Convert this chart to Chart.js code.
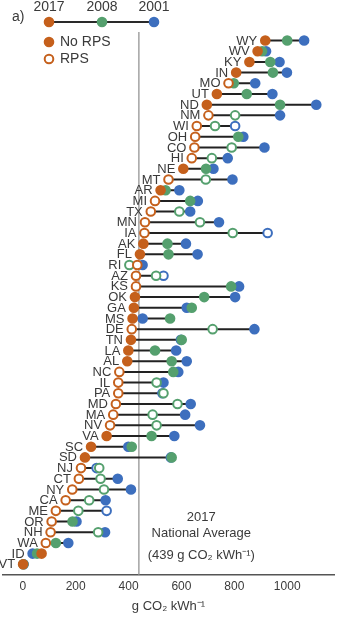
<!DOCTYPE html>
<html>
<head>
<meta charset="utf-8">
<script src="https://cdn.jsdelivr.net/npm/chart.js@4/dist/chart.umd.min.js"></script>
<style>
html, body { margin: 0; padding: 0; background: #fff; }
#wrap { position: relative; width: 344px; height: 619px; }
</style>
</head>
<body>
<div id="wrap"><canvas id="co2Chart"></canvas></div>
<script>
// states, top to bottom
const STATES = ['WY','WV','KY','IN','MO','UT','ND','NM','WI','OH','CO','HI','NE','MT','AR','MI','TX','MN','IA','AK',
'FL','RI','AZ','KS','OK','GA','MS','DE','TN','LA','AL','NC','IL','PA','MD','MA','NV','VA','SC','SD',
'NJ','CT','NY','CA','ME','OR','NH','WA','ID','VT'];

// g CO2 / kWh
const Y2017 = [917,888,857,807,778,734,696,702,658,652,649,639,607,551,521,500,484,462,460,456,
443,433,428,428,424,420,415,412,409,399,395,365,361,361,352,342,330,317,258,235,
220,212,187,162,125,109,105,87,71,1];
const Y2008 = [1000,905,936,946,798,847,973,803,727,815,790,715,693,692,540,633,592,670,794,547,
551,403,504,788,686,639,557,718,601,500,563,569,506,532,585,491,506,487,412,563,
289,294,307,251,210,188,285,125,54,2];
const Y2001 = [1064,920,971,999,879,944,1110,973,803,834,914,775,721,793,592,662,633,742,926,617,
661,453,532,818,803,620,453,876,598,580,620,588,532,528,635,614,670,573,399,560,
279,359,409,313,317,203,311,172,37,3];

// 1 = RPS in place (open marker)
const RPS2017 = [0,0,0,0,1,0,0,1,1,1,1,1,0,1,0,1,1,1,1,0,
0,1,1,1,0,0,0,1,0,0,0,1,1,1,1,1,1,0,0,0,
1,1,1,1,1,1,1,1,0,0];
const RPS2008 = [0,0,0,0,0,0,0,1,1,0,1,1,0,1,0,0,1,1,1,0,
0,1,1,0,0,0,0,1,0,0,0,0,1,1,1,1,1,0,0,0,
1,1,1,1,1,0,1,0,0,0];
const RPS2001 = [0,0,0,0,0,0,0,0,1,0,0,0,0,0,0,0,0,0,1,0,
0,0,1,0,0,0,0,0,0,0,0,0,0,0,0,0,0,0,0,0,
1,0,0,0,1,0,0,0,0,0];

const X_TICKS = [0, 200, 400, 600, 800, 1000];
const X_MIN = -75, X_MAX = 1177;
const Y_MIN = -0.8, Y_MAX = 50;
const NATIONAL_AVG = 439;

const ORANGE = '#C5601C';
const GREEN = '#55A06E';
const BLUE = '#3D6FBE';
const TEXT = '#3a3a3a';
const FONT = '"Liberation Sans", Arial, sans-serif';

function pts(vals) { return vals.map(function(v, i) { return { x: v, y: i }; }); }
function fills(flags, col) { return flags.map(function(f) { return f ? '#ffffff' : col; }); }

function markerSet(label, vals, flags, col, order) {
return { type: 'scatter', label: label, data: pts(vals), order: order, showLine: false,
pointRadius: 4.3, pointBorderWidth: 2, pointBorderColor: col, pointBackgroundColor: fills(flags, col),
pointHoverRadius: 4.3, clip: 8 };
}

// connector from lowest to highest value of each state, gaps between states
const connectors = [];
STATES.forEach(function(s, i) {
const lo = Math.min(Y2017[i], Y2008[i], Y2001[i]);
const hi = Math.max(Y2017[i], Y2008[i], Y2001[i]);
connectors.push({ x: lo, y: i }, { x: hi, y: i }, { x: null, y: null });
});

function drawMarker(ctx, x, y, col, open) {
ctx.beginPath();
ctx.arc(x, y, 4.3, 0, Math.PI * 2);
ctx.fillStyle = open ? '#fff' : col;
ctx.fill();
ctx.lineWidth = 2;
ctx.strokeStyle = col;
ctx.stroke();
}

const statePlugin = {
id: 'stateLabels',
afterDatasetsDraw: function(chart) {
const ctx = chart.ctx, xs = chart.scales.x, ys = chart.scales.y;
ctx.save();
ctx.font = '13px ' + FONT;
ctx.fillStyle = TEXT;
ctx.textAlign = 'right';
ctx.textBaseline = 'middle';
STATES.forEach(function(s, i) {
const lo = Math.min(Y2017[i], Y2008[i], Y2001[i]);
ctx.fillText(s, xs.getPixelForValue(lo) - 8, ys.getPixelForValue(i) + 0.5);
});
// national average note
ctx.textAlign = 'center';
const cx = xs.getPixelForValue(675);
ctx.fillText('2017', cx, ys.getPixelForValue(44.6));
ctx.fillText('National Average', cx, ys.getPixelForValue(46.1));
ctx.fillText('(' + NATIONAL_AVG + ' g CO\u2082 kWh\u207B\u00B9)', cx, ys.getPixelForValue(48.2));
ctx.restore();
}
};

const legendPlugin = {
id: 'topLegend',
afterDraw: function(chart) {
const ctx = chart.ctx;
ctx.save();
ctx.font = '14px ' + FONT;
ctx.fillStyle = TEXT;
ctx.textBaseline = 'middle';
ctx.textAlign = 'left';
ctx.fillText('a)', 12, 17);
ctx.textAlign = 'center';
ctx.textBaseline = 'alphabetic';
ctx.fillText('2017', 49, 11);
ctx.fillText('2008', 102, 11);
ctx.fillText('2001', 154, 11);
ctx.beginPath();
ctx.moveTo(49, 22); ctx.lineTo(154, 22);
ctx.lineWidth = 2; ctx.strokeStyle = '#2a2a2a'; ctx.stroke();
drawMarker(ctx, 49, 22, ORANGE, false);
drawMarker(ctx, 102, 22, GREEN, false);
drawMarker(ctx, 154, 22, BLUE, false);
drawMarker(ctx, 49, 42, ORANGE, false);
drawMarker(ctx, 49, 59, ORANGE, true);
ctx.textAlign = 'left';
ctx.textBaseline = 'middle';
ctx.fillStyle = TEXT;
ctx.fillText('No RPS', 60, 42.5);
ctx.fillText('RPS', 60, 59.5);
ctx.restore();
}
};

new Chart(document.getElementById('co2Chart'), {
type: 'scatter',
data: {
datasets: [
markerSet('2017', Y2017, RPS2017, ORANGE, 1),
markerSet('2008', Y2008, RPS2008, GREEN, 2),
markerSet('2001', Y2001, RPS2001, BLUE, 3),
{ type: 'line', label: 'range', data: connectors, order: 4, spanGaps: false,
borderColor: '#222222', borderWidth: 2, pointRadius: 0, fill: false },
{ type: 'line', label: 'avg', data: [{ x: NATIONAL_AVG, y: Y_MIN }, { x: NATIONAL_AVG, y: Y_MAX }], order: 5,
borderColor: '#8c8c8c', borderWidth: 1.2, pointRadius: 0, fill: false }
]
},
options: {
responsive: true, maintainAspectRatio: false, animation: false,
layout: { autoPadding: false, padding: { top: 32, left: 3, right: 10, bottom: 5 } },
plugins: { legend: { display: false }, tooltip: { enabled: false } },
scales: {
x: {
type: 'linear', min: X_MIN, max: X_MAX,
afterBuildTicks: function(axis) { axis.ticks = X_TICKS.map(function(v) { return { value: v }; }); },
grid: { display: false, drawTicks: false },
border: { display: true, color: '#555555', width: 1.5 },
ticks: { padding: 4, color: TEXT, font: { size: 12, family: FONT }, callback: function(v) { return String(v); } },
title: { display: true, text: 'g CO\u2082 kWh\u207B\u00B9', color: TEXT, font: { size: 13, family: FONT }, padding: { top: 1, bottom: 0 } }
},
y: { type: 'linear', reverse: true, min: Y_MIN, max: Y_MAX, display: false }
}
},
plugins: [statePlugin, legendPlugin]
});
</script>
</body>
</html>
